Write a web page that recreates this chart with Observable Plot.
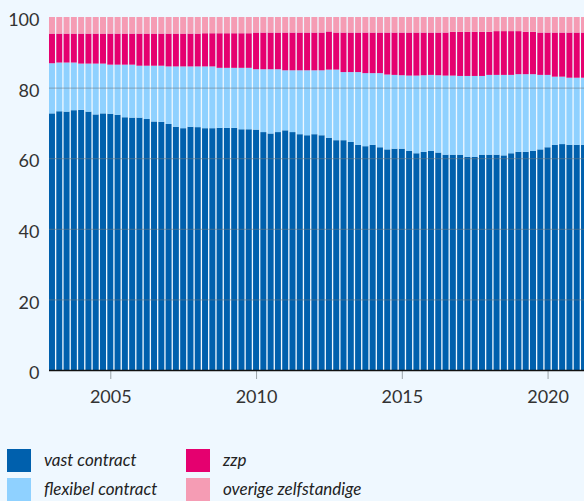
<!DOCTYPE html>
<html>
<head>
<meta charset="utf-8">
<script src="https://cdn.jsdelivr.net/npm/d3@7"></script>
<script src="https://cdn.jsdelivr.net/npm/@observablehq/plot@0.6"></script>
<style>
  html, body { margin: 0; padding: 0; background: #eff8ff; overflow: hidden; width: 584px; height: 501px; }
  #chart svg { display: block; max-width: none !important; }
  .legend { position: absolute; top: 449px; left: 7px; font-family: Lato, "Open Sans", sans-serif; font-style: italic; font-size: 17px; color: #222; }
  .item { position: absolute; width: 170px; height: 23px; white-space: nowrap; }
  .sw { position: absolute; left: 0; top: 0; width: 24px; height: 23px; }
  .lab { position: absolute; left: 37px; top: 1px; line-height: 20px; }
</style>
</head>
<body>
<div id="chart"></div>
<div class="legend" id="legend"></div>
<script>
// Categories
const categories = ["vast contract", "flexibel contract", "zzp", "overige zelfstandige"];
const colors = ["#0060ad", "#8fd1ff", "#e5006f", "#f59cb4"];
const yearTicks = [2005, 2010, 2015, 2020];
const yTicks = [0, 20, 40, 60, 80, 100];

// Quarters 2003 K1 .. 2021 K2
const quarters = d3.range(2003, 2022).flatMap(y => [1, 2, 3, 4].map(k => `${y}-K${k}`)).slice(0, 74);

// Shares (%) per quarter
const vast = [72.7,73.3,73.2,73.6,73.7,73.2,72.4,72.7,72.6,72.3,71.6,71.5,71.5,71.1,70.4,70.3,69.7,68.9,68.5,68.9,
  68.8,68.5,68.5,68.6,68.6,68.6,68.2,68.2,68.1,67.4,67.0,67.4,67.9,67.4,66.8,66.5,66.8,66.5,65.8,65.1,
  65.1,64.6,63.8,63.4,63.8,63.1,62.5,62.7,62.7,62.1,61.4,61.8,62.1,61.6,61.0,61.0,61.0,60.4,60.4,61.0,
  61.0,61.0,60.8,61.4,61.8,61.8,62.1,62.5,63.1,63.8,64.0,63.8,63.8,63.8];
const flexibel = [14.2,13.8,13.9,13.5,13.1,13.6,14.4,14.1,13.9,14.2,14.9,15.0,14.7,15.1,15.8,15.9,16.3,17.1,17.5,17.1,
  17.2,17.5,17.5,17.0,17.0,17.0,17.4,17.4,17.1,17.8,18.2,17.8,17.0,17.5,18.1,18.4,18.1,18.4,19.3,20.0,
  19.3,19.8,20.6,20.7,20.3,21.0,21.2,20.9,20.8,21.3,22.0,21.7,21.5,21.9,22.4,22.4,22.3,22.9,22.9,22.3,
  22.6,22.6,22.8,22.2,22.0,22.0,21.7,21.1,20.5,19.3,19.1,19.0,19.0,19.0];
const zzp = [8.4,8.2,8.2,8.2,8.5,8.5,8.5,8.5,8.8,8.8,8.8,8.8,9.1,9.1,9.1,9.1,9.3,9.3,9.3,9.3,
  9.3,9.4,9.4,9.8,9.8,9.8,9.8,9.8,10.4,10.4,10.4,10.4,10.7,10.7,10.7,10.7,10.7,10.7,10.8,10.5,
  11.2,11.2,11.2,11.5,11.5,11.5,11.9,12.0,12.1,12.2,12.2,12.1,12.0,12.1,12.2,12.4,12.5,12.5,12.5,12.5,
  12.2,12.4,12.4,12.4,12.2,12.0,12.0,12.0,12.0,12.5,12.5,12.8,12.8,12.8];
const overige = [4.7,4.7,4.7,4.7,4.7,4.7,4.7,4.7,4.7,4.7,4.7,4.7,4.7,4.7,4.7,4.7,4.7,4.7,4.7,4.7,
  4.7,4.6,4.6,4.6,4.6,4.6,4.6,4.6,4.4,4.4,4.4,4.4,4.4,4.4,4.4,4.4,4.4,4.4,4.1,4.4,
  4.4,4.4,4.4,4.4,4.4,4.4,4.4,4.4,4.4,4.4,4.4,4.4,4.4,4.4,4.4,4.2,4.2,4.2,4.2,4.2,
  4.2,4.0,4.0,4.0,4.0,4.2,4.2,4.4,4.4,4.4,4.4,4.4,4.4,4.4];

const series = [vast, flexibel, zzp, overige];
const data = [];
quarters.forEach((q, i) => {
  categories.forEach((c, j) => data.push({q, cat: c, value: series[j][i]}));
});

const chart = Plot.plot({
  width: 587,
  height: 425,
  marginLeft: 49,
  marginRight: 0,
  marginTop: 17,
  marginBottom: 55,
  style: {background: "transparent", fontFamily: "Lato, 'Open Sans', sans-serif", fontSize: "18px", color: "#333"},
  x: {type: "band", domain: quarters, paddingInner: 0.18, paddingOuter: 0, round: false, label: null},
  y: {domain: [0, 100], label: null},
  color: {domain: categories, range: colors},
  marks: [
    Plot.barY(data, Plot.stackY({x: "q", y: "value", fill: "cat", order: categories})),
    Plot.gridY([20, 40, 60, 80], {stroke: "#6b7780", strokeOpacity: 0.45, strokeWidth: 1.2}),
    Plot.axisY(yTicks, {tickSize: 0, tickPadding: 10, dy: 3, label: null, fill: "#333", fontSize: 18}),
    Plot.axisX(yearTicks.map(y => `${y}-K1`), {tickSize: 9, tickPadding: 11, stroke: "#9aa3a9", fill: "#333",
      tickFormat: d => d.slice(0, 4), label: null, fontSize: 18}),
    Plot.ruleY([0], {stroke: "#111", strokeWidth: 1.6})
  ]
});
document.getElementById("chart").appendChild(chart);

// Legend
const legend = document.getElementById("legend");
const pos = [[0, 0], [0, 29], [179, 0], [179, 29]];
categories.forEach((c, i) => {
  const it = document.createElement("div");
  it.className = "item";
  it.style.left = pos[i][0] + "px";
  it.style.top = pos[i][1] + "px";
  it.innerHTML = `<div class="sw" style="background:${colors[i]}"></div><div class="lab">${c}</div>`;
  legend.appendChild(it);
});
</script>
</body>
</html>
